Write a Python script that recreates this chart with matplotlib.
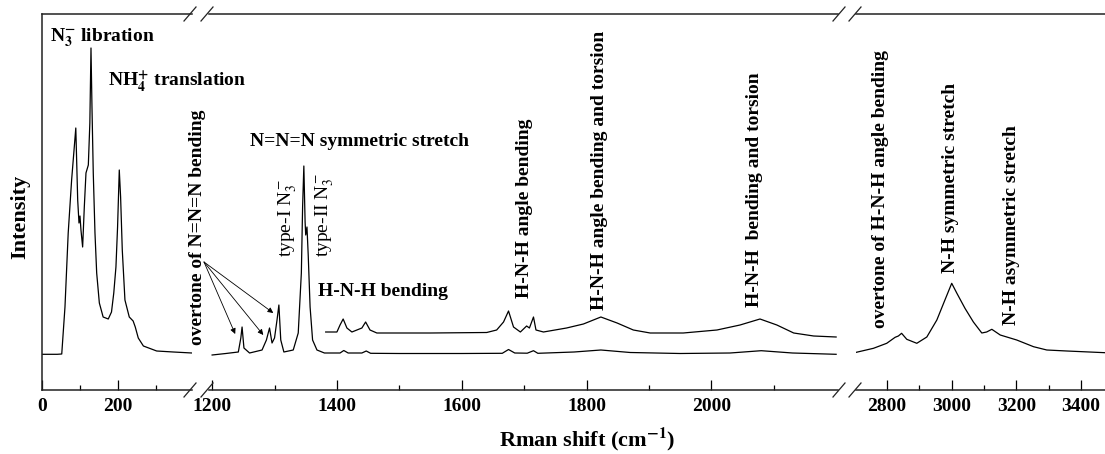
import matplotlib
matplotlib.use("Agg")
import matplotlib.pyplot as plt
from matplotlib.lines import Line2D

plt.rcParams['font.family'] = ['Liberation Serif', 'DejaVu Serif']
plt.rcParams['mathtext.fontset'] = 'stix'

# ---------------- data ----------------
# panel 1 : low-frequency region
x1 = [0, 20, 40, 52, 60.5, 69, 78, 85, 89, 94, 97.4, 100, 102.6, 107, 111.4, 115.8, 122,
      126, 129, 131.6, 135, 139.5, 144, 151, 161, 174.5, 183, 189, 194.7, 199, 203.5,
      207, 211.4, 218.4, 229.8, 240, 245.6, 253.5, 267, 302, 346, 395]
i1 = [35.7, 35.7, 35.7, 36, 83, 157, 210, 243, 262, 190, 167, 174, 160, 143, 183, 217, 225,
      267, 342, 283, 217, 157, 117, 87, 73, 71, 78, 97, 123, 163, 220,
      193, 140, 90, 73, 69, 63, 52, 44, 39, 38, 37]

# panel 2 : lower trace
x2_low = [1200, 1222, 1242, 1246, 1248, 1251, 1260, 1280, 1287, 1292, 1296, 1300, 1304, 1307,
          1310, 1315, 1330, 1338, 1343, 1345, 1347, 1349, 1350, 1352, 1354, 1357, 1361, 1368,
          1380, 1405, 1411, 1418, 1440, 1447, 1454, 1500, 1600, 1665, 1675, 1685, 1705, 1715,
          1722, 1780, 1823, 1870, 1950, 2030, 2080, 2130, 2200]
i2_low = [35, 36.5, 38, 52, 63, 42, 37, 40, 50, 62, 47, 52, 70, 85,
          50, 38, 40, 57, 117, 183, 224, 168, 155, 163, 135, 83, 50, 40,
          37, 37, 39.5, 37, 37, 39, 36.7, 36.5, 36.5, 36.7, 40.5, 37, 36.8, 39.3,
          36.7, 38, 40, 37.5, 36.5, 37, 39.3, 37, 35.7]

# panel 2 : upper (offset) trace
x2_up = [1382, 1400, 1405, 1410, 1416, 1424, 1440, 1446, 1453, 1464, 1550, 1640, 1656, 1667,
         1675, 1683, 1694, 1704, 1708.5, 1715, 1719, 1731, 1768, 1795, 1823, 1849, 1875, 1902,
         1955, 2009, 2046, 2078, 2105, 2132, 2164, 2200]
i2_up = [58, 58, 65, 71, 62, 58, 62, 68, 60, 57, 57, 57.5, 60, 68,
         79, 63, 58, 64, 62, 73, 60, 58, 62, 66, 73, 67, 60, 57,
         57, 60, 65, 71, 65, 57, 54, 53]

# panel 3 : high-frequency region
x3 = [2705, 2758, 2799, 2825, 2835, 2845, 2861, 2892, 2923, 2954, 2979, 3000, 3016, 3041,
      3067, 3093, 3108, 3124, 3150, 3201, 3253, 3294, 3356, 3474]
i3 = [37.7, 41.7, 46.7, 52.7, 54, 56.7, 50.7, 46.7, 53, 70, 90, 106.7, 96.7, 81.7,
      68, 57, 58, 60.7, 55, 50, 43.3, 40, 39, 37.3]

xlim1 = (0, 395)
xlim2 = (1195, 2203)
xlim3 = (2704, 3474)
ticks1, minor1 = [0, 200], [100, 300]
ticks2, minor2 = [1200, 1400, 1600, 1800, 2000], [1300, 1500, 1700, 1900, 2100]
ticks3, minor3 = [2800, 3000, 3200, 3400], [2900, 3100, 3300]

# ---------------- figure ----------------
W, H = 1105, 454
fig = plt.figure(figsize=(W / 100, H / 100), dpi=100)

def px_box(x0, x1_):
    bottom = (H - 390) / H
    height = 376 / H
    return [x0 / W, bottom, (x1_ - x0) / W, height]

ax1 = fig.add_axes(px_box(42, 192))
ax2 = fig.add_axes(px_box(209, 838))
ax3 = fig.add_axes(px_box(856, 1105))

lw = 0.9
ax1.plot(x1, i1, color='black', lw=lw)
ax2.plot(x2_low, i2_low, color='black', lw=lw)
ax2.plot(x2_up, i2_up, color='black', lw=lw)
ax3.plot(x3, i3, color='black', lw=lw)

for ax, xl, tk, mn in [(ax1, xlim1, ticks1, minor1), (ax2, xlim2, ticks2, minor2),
                       (ax3, xlim3, ticks3, minor3)]:
    ax.set_xlim(*xl)
    ax.set_ylim(0, 376)
    ax.set_xticks(tk)
    ax.set_xticks(mn, minor=True)
    ax.set_yticks([])
    ax.tick_params(axis='x', which='major', direction='in', length=7, width=0.9, pad=6,
                   labelsize=14)
    ax.tick_params(axis='x', which='minor', direction='in', length=3.5, width=0.9)
    for lab in ax.get_xticklabels():
        lab.set_fontweight('bold')
    for s in ax.spines.values():
        s.set_linewidth(1.1)
        s.set_color('#222222')
    ax.patch.set_alpha(0)

ax1.spines['right'].set_visible(False)
ax2.spines['left'].set_visible(False)
ax2.spines['right'].set_visible(False)
ax3.spines['left'].set_visible(False)
ax3.spines['right'].set_visible(False)

# break marks
def slash(cx, cy):
    fig.add_artist(Line2D([(cx - 6) / W, (cx + 6) / W], [1 - (cy + 7) / H, 1 - (cy - 7) / H],
                          transform=fig.transFigure, color='#222222', lw=0.9))

for cx in (190, 207, 839, 855):
    for cy in (14, 390):
        slash(cx, cy)

# axis labels
fig.text(587 / W, 1 - 439 / H, r"Rman shift (cm$^{\mathbf{-1}}$)", ha='center', va='center',
         fontsize=16, fontweight='bold')
fig.text(20 / W, 1 - 217 / H, "Intensity", ha='center', va='center', rotation=90,
         fontsize=16, fontweight='bold')

# annotations
bold = dict(fontsize=14, fontweight='bold')
ax1.text(21, 352, r"N$_{\mathbf{3}}^{\mathbf{-}}$ libration", ha='left', va='center', **bold)
ax1.text(174, 308, r"NH$_{\mathbf{4}}^{\mathbf{+}}$ translation", ha='left', va='center',
         clip_on=False, **bold)
ax1.text(410, 45, "overtone of N=N=N bending", rotation=90, ha='center', va='bottom', **bold)

ax2.text(1261, 249, "N=N=N symmetric stretch", ha='left', va='center', **bold)
ax2.text(1322, 133, r"type-I N$_3^-$", rotation=90, ha='center', va='bottom', fontsize=14)
ax2.text(1381, 133, r"type-II N$_3^-$", rotation=90, ha='center', va='bottom', fontsize=14)
ax2.text(1370, 99, "H-N-H bending", ha='left', va='center', **bold)
ax2.text(1700, 92, "H-N-H angle bending", rotation=90, ha='center', va='bottom', **bold)
ax2.text(1820, 80, "H-N-H angle bending and torsion", rotation=90, ha='center', va='bottom',
         **bold)
ax2.text(2069, 83, "H-N-H  bending and torsion", rotation=90, ha='center', va='bottom', **bold)

ax3.text(2781, 62, "overtone of H-N-H angle bending", rotation=90, ha='center', va='bottom',
         clip_on=False, **bold)
ax3.text(2995, 117, "N-H symmetric stretch", rotation=90, ha='center', va='bottom', **bold)
ax3.text(3184, 65, "N-H asymmetric stretch", rotation=90, ha='center', va='bottom', **bold)

# arrows for overtone peaks
arrow_targets = [(1237, 56), (1282, 55), (1298, 77)]
for tx, ty in arrow_targets:
    ax2.annotate("", xy=(tx, ty), xytext=(1187, 128), xycoords='data', textcoords='data',
                 annotation_clip=False,
                 arrowprops=dict(arrowstyle='-|>', color='black', lw=0.6, mutation_scale=8,
                                 shrinkA=0, shrinkB=0))

fig.savefig("out.png", dpi=100)
